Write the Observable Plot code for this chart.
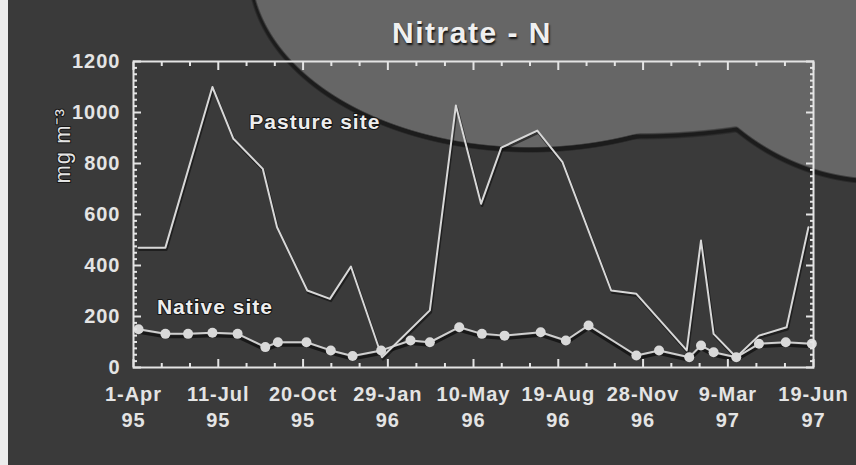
<!DOCTYPE html>
<html>
<head>
<meta charset="utf-8">
<script src="https://cdn.jsdelivr.net/npm/d3@7"></script>
<script src="https://cdn.jsdelivr.net/npm/@observablehq/plot@0.6"></script>
<style>
html, body { margin: 0; padding: 0; background: #3b3b3b; }
#wrap {
  width: 856px; height: 465px; position: relative; overflow: hidden;
  background:
    linear-gradient(to right, #ececec 8px, transparent 8px),
    radial-gradient(280px 180px at 530px -32px, #666 99.2%, transparent 100%),
    radial-gradient(450px 300px at 640px -165px, #666 99.2%, transparent 100%),
    radial-gradient(230px 240px at 880px -60px, #666 99.2%, transparent 100%),
    radial-gradient(283px 183px at 530px -30px, #1c1c1c 99.2%, transparent 100%),
    radial-gradient(453px 303px at 640px -163px, #1c1c1c 99.2%, transparent 100%),
    radial-gradient(233px 243px at 880px -58px, #1c1c1c 99.2%, transparent 100%),
    #3a3a3a;
  font-family: "Liberation Sans", Arial, sans-serif;
}
#title {
  position: absolute; top: 18px; left: 88px; right: 0;
  text-align: center; font-weight: bold; font-size: 30px; line-height: 30px;
  letter-spacing: 1.5px; color: #f0f0f0;
  text-shadow: 1px 2px 2px #111;
}
#chart { position: absolute; left: 0; top: 0; }
#chart svg text { letter-spacing: 1px; }
</style>
</head>
<body>
<div id="wrap">
  <div id="chart"></div>
  <div id="title">Nitrate - N</div>
</div>
<script>
// ---- data ----
const pastureDates = ["1995-04-07","1995-05-09","1995-07-04","1995-07-29","1995-09-02","1995-09-19",
  "1995-10-25","1995-11-21","1995-12-16","1996-01-22","1996-03-19","1996-04-19","1996-05-19",
  "1996-06-12","1996-07-25","1996-08-24","1996-10-21","1996-11-20","1997-01-19","1997-02-05",
  "1997-02-20","1997-03-19","1997-04-15","1997-05-18","1997-06-13"];
const pastureValues = [470, 470, 1100, 897, 779, 550, 302, 269, 396, 40, 224, 1027, 642,
  862, 929, 805, 302, 289, 67, 498, 132, 40, 125, 158, 550];

const nativeDates = ["1995-04-07","1995-05-09","1995-06-05","1995-07-04","1995-08-03","1995-09-05",
  "1995-09-20","1995-10-24","1995-11-22","1995-12-18","1996-01-21","1996-02-25","1996-03-19",
  "1996-04-23","1996-05-20","1996-06-16","1996-07-29","1996-08-28","1996-09-24","1996-11-20",
  "1996-12-17","1997-01-22","1997-02-05","1997-02-20","1997-03-19","1997-04-15","1997-05-17","1997-06-17"];
const nativeValues = [150, 132, 132, 136, 132, 80, 99, 99, 67, 45, 67, 106, 99,
  158, 132, 125, 138, 106, 165, 47, 67, 40, 86, 60, 40, 93, 99, 93];

const tickDates = ["1995-04-01","1995-07-11","1995-10-20","1996-01-29","1996-05-10",
  "1996-08-19","1996-11-28","1997-03-09","1997-06-19"];
const tickLabels = ["1-Apr\n95","11-Jul\n95","20-Oct\n95","29-Jan\n96","10-May\n96",
  "19-Aug\n96","28-Nov\n96","9-Mar\n97","19-Jun\n97"];
const yTicks = [0, 200, 400, 600, 800, 1000, 1200];

const seriesLabels = ["Pasture site", "Native site"];
const seriesLabelDates = ["1995-11-03", "1995-07-07"];
const seriesLabelValues = [961, 235];

const titleText = "Nitrate - N";
const yLabel = "mg m\u207B\u00B3";

// ---- build tables ----
const pasture = pastureDates.map((d, i) => ({date: new Date(d), value: pastureValues[i]}));
const native = nativeDates.map((d, i) => ({date: new Date(d), value: nativeValues[i]}));
const labels = seriesLabels.map((t, i) => ({text: t, date: new Date(seriesLabelDates[i]), value: seriesLabelValues[i]}));

const majorX = tickDates.map(d => new Date(d));
const minorX = d3.pairs(majorX).flatMap(([a, b]) => [1, 2].map(k => new Date(+a + (b - a) * k / 3)));
const minorY = d3.range(0, 1201, 25).filter(v => v % 200 !== 0);
const labelMap = new Map(majorX.map((d, i) => [+d, tickLabels[i]]));

const ink = "#e4e4e4";
const tickOpts = {stroke: ink, fill: "none", strokeWidth: 2, label: null};

const chart = Plot.plot({
  width: 856,
  height: 465,
  marginLeft: 133,
  marginRight: 43,
  marginTop: 61,
  marginBottom: 98,
  style: {background: "transparent", color: ink, fontFamily: "'Liberation Sans', Arial, sans-serif", fontSize: "20px", overflow: "visible"},
  x: {type: "utc", domain: [new Date("1995-04-01"), new Date("1997-06-19")], label: null},
  y: {domain: [0, 1200], label: null},
  marks: [
    // shadows
    Plot.line(native, {x: "date", y: "value", stroke: "#0e0e0e", strokeWidth: 3, strokeOpacity: 0.75, dy: 3}),
    Plot.line(pasture, {x: "date", y: "value", stroke: "#0e0e0e", strokeWidth: 2.5, strokeOpacity: 0.6, dx: 1, dy: 2}),
    // series
    Plot.line(native, {x: "date", y: "value", stroke: "#cfcfcf", strokeWidth: 2}),
    Plot.dot(native, {x: "date", y: "value", r: 5, fill: "#d9d9d9", stroke: "none"}),
    Plot.line(pasture, {x: "date", y: "value", stroke: "#d8d8d8", strokeWidth: 2}),
    // frame and inward ticks
    Plot.frame({stroke: ink, strokeWidth: 2}),
    Plot.axisY(yTicks, {anchor: "left", tickSize: -8, ...tickOpts}),
    Plot.axisY(minorY, {anchor: "left", tickSize: -4, ...tickOpts}),
    Plot.axisY(yTicks, {anchor: "right", tickSize: -8, ...tickOpts}),
    Plot.axisY(minorY, {anchor: "right", tickSize: -4, ...tickOpts}),
    Plot.axisX(majorX, {anchor: "top", tickSize: -8, ...tickOpts}),
    Plot.axisX(minorX, {anchor: "top", tickSize: -4, ...tickOpts}),
    Plot.axisX(majorX, {anchor: "bottom", tickSize: -8, ...tickOpts}),
    Plot.axisX(minorX, {anchor: "bottom", tickSize: -4, ...tickOpts}),
    // tick labels
    Plot.axisY(yTicks, {anchor: "left", tickSize: 0, tickPadding: 13, fontSize: 20, fontWeight: "bold",
      fill: ink, stroke: "none", label: null, tickFormat: d => String(d)}),
    Plot.axisX(majorX, {anchor: "bottom", tickSize: 0, tickPadding: 15, fontSize: 20, fontWeight: "bold",
      lineHeight: 1.3, fill: ink, stroke: "none", label: null, tickFormat: d => labelMap.get(+d)}),
    // series labels
    Plot.text(labels, {x: "date", y: "value", text: "text", fontSize: 21, fontWeight: "bold", fill: "#ededed",
      stroke: "#151515", strokeWidth: 2}),
    // y axis title
    Plot.text([yLabel], {frameAnchor: "left", dx: -71, dy: -31, rotate: -90, fontSize: 22, fill: ink,
      stroke: "#151515", strokeWidth: 2})
  ]
});
document.getElementById("chart").appendChild(chart);
document.getElementById("title").textContent = titleText;
</script>
</body>
</html>
